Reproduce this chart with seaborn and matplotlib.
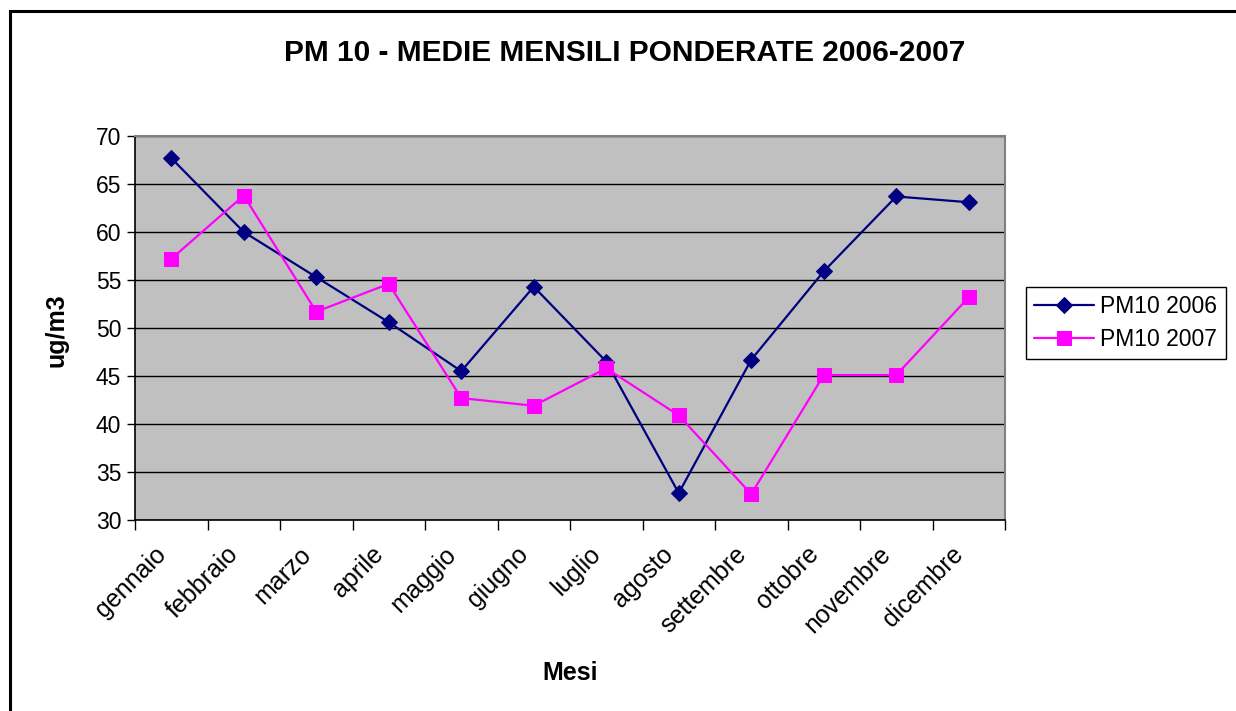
import matplotlib
matplotlib.use("Agg")
import matplotlib.pyplot as plt
import matplotlib.transforms as mtransforms
from matplotlib.patches import Rectangle
import seaborn as sns
import pandas as pd
import numpy as np

mesi = ["gennaio", "febbraio", "marzo", "aprile", "maggio", "giugno",
        "luglio", "agosto", "settembre", "ottobre", "novembre", "dicembre"]
pm10_2006 = [67.7, 60.0, 55.3, 50.6, 45.5, 54.3, 46.5, 32.8, 46.7, 55.9, 63.7, 63.1]
pm10_2007 = [57.2, 63.8, 51.7, 54.6, 42.7, 41.9, 45.8, 40.9, 32.7, 45.1, 45.1, 53.2]
series_names = ["PM10 2006", "PM10 2007"]
y_ticks = [30, 35, 40, 45, 50, 55, 60, 65, 70]

df = pd.DataFrame({
    "x": list(range(len(mesi))) * 2,
    "val": pm10_2006 + pm10_2007,
    "serie": [series_names[0]] * len(mesi) + [series_names[1]] * len(mesi),
})

sns.set_theme(style="white")
plt.rcParams['font.family'] = ['Liberation Sans', 'DejaVu Sans']
plt.rcParams['text.color'] = 'black'
plt.rcParams['xtick.color'] = 'black'
plt.rcParams['ytick.color'] = 'black'
plt.rcParams['axes.labelcolor'] = 'black'

fig = plt.figure(figsize=(12.36, 7.11), dpi=100)
ax = fig.add_axes([135 / 1236, 1 - 520 / 711, 870 / 1236, 384 / 711])
ax.set_facecolor("#C0C0C0")

palette = {series_names[0]: "#000080", series_names[1]: "#FF00FF"}
markers = {series_names[0]: "D", series_names[1]: "s"}
sizes_m = {series_names[0]: 8.5, series_names[1]: 9.5}
for name in series_names:
    sub = df[df["serie"] == name]
    sns.lineplot(data=sub, x="x", y="val", ax=ax, color=palette[name],
                 marker=markers[name], markersize=sizes_m[name],
                 markeredgecolor=palette[name], linewidth=1.6, label=name)

ax.set_xlim(-0.5, len(mesi) - 0.5)
ax.set_ylim(30, 70)
ax.set_yticks(y_ticks)
ax.set_yticklabels([str(v) for v in y_ticks], fontsize=16.5, color="black")
ax.yaxis.grid(True, color="black", linewidth=1.0)
ax.xaxis.grid(False)
ax.set_axisbelow(True)

# category boundaries as major ticks, labels on minor ticks at centers
ax.set_xticks(np.arange(-0.5, len(mesi), 1.0))
ax.set_xticklabels([])
ax.set_xticks(np.arange(len(mesi)), minor=True)
ax.set_xticklabels(mesi, minor=True, fontsize=18, rotation=45, color="black",
                   ha="right", va="center", rotation_mode="anchor")
ax.tick_params(axis="x", which="major", direction="out", length=7, width=1, color="black", bottom=True)
ax.tick_params(axis="x", which="minor", length=0, pad=22)
ax.tick_params(axis="y", which="major", direction="out", length=6, width=1, color="black", left=True, pad=4)
offset = mtransforms.ScaledTranslation(-9 / 100, 0, fig.dpi_scale_trans)
for lab in ax.get_xticklabels(minor=True):
    lab.set_transform(lab.get_transform() + offset)

for side in ["left", "bottom"]:
    ax.spines[side].set_color("black")
    ax.spines[side].set_linewidth(1.2)
for side in ["top", "right"]:
    ax.spines[side].set_color("#808080")
    ax.spines[side].set_linewidth(1.5)

ax.set_xlabel("")
ax.set_ylabel("")
fig.text(57 / 1236, 1 - 330 / 711, "ug/m3", rotation=90, fontsize=18,
         fontweight="bold", ha="center", va="center", color="black")
fig.text(570 / 1236, 1 - 673 / 711, "Mesi", fontsize=18, fontweight="bold",
         ha="center", va="center", color="black")
fig.text(625 / 1236, 1 - 53 / 711, "PM 10 - MEDIE MENSILI PONDERATE 2006-2007",
         fontsize=21.5, fontweight="bold", ha="center", va="center", color="black")

leg = ax.legend(loc="upper left", bbox_to_anchor=(1026 / 1236, 1 - 287 / 711),
                bbox_transform=fig.transFigure, fontsize=16.5, frameon=True,
                fancybox=False, edgecolor="black", framealpha=1,
                borderaxespad=0, handlelength=2.6, handletextpad=0.3,
                borderpad=0.35, labelspacing=0.45)
leg.get_frame().set_linewidth(1.0)
for t in leg.get_texts():
    t.set_color("black")

# outer chart frame
fig.patches.append(Rectangle((9.5 / 1236, -0.05), 1.2, 1 - 10.5 / 711 + 0.05,
                             transform=fig.transFigure, fill=False,
                             edgecolor="black", linewidth=2.2))

fig.savefig("out.png", dpi=100, facecolor="white")
